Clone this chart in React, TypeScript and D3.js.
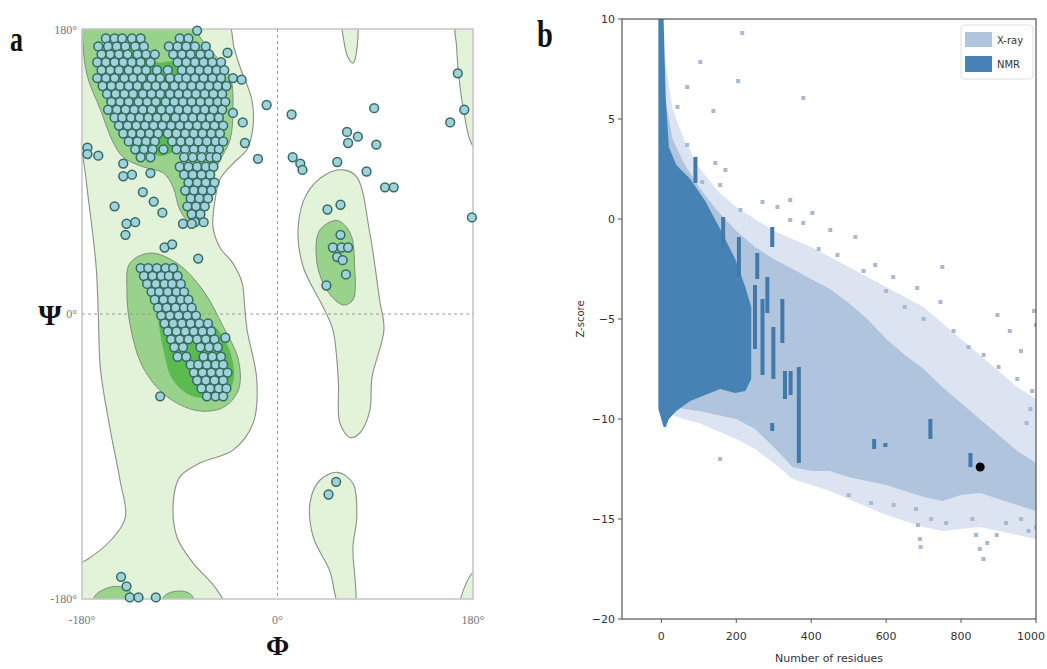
import React from 'react';
import * as d3 from 'd3';

const WIDTH = 1047;
const HEIGHT = 669;
const FRAME_A = { left: 82, right: 473, top: 29, bottom: 599 };
const FRAME_B = { left: 622, right: 1036, top: 19, bottom: 619 };

type P = [number, number];

// ---------- panel a: Ramachandran contours, [phi, psi] in degrees
const allowedMain: P[] = [
  [-190, 190], [-48, 186], [-40, 168], [-34.5, 156], [-23.5, 135], [-22.6, 118], [-28, 104],
  [-41, 95], [-53, 85], [-57.5, 72], [-59.4, 55], [-53, 42], [-41, 32], [-32.7, 20], [-30, 2.5],
  [-28, -10], [-19, -42], [-22.5, -69], [-41, -86], [-71, -94], [-90, -103], [-96, -119],
  [-92.5, -141], [-78, -157], [-56, -174], [-49, -186], [-190, -190], [-190, -160], [-175, -155],
  [-151, -141], [-140, -128], [-145, -105], [-154, -73], [-163, -35], [-165, 0], [-167, 30],
  [-174, 72], [-181, 105], [-190, 120],
];
const allowedRight: P[] = [
  [60.5, 91], [73, 86.5], [85, 51], [94, 9], [98, -10], [87, -40], [85, -61], [76, -75], [67, -78],
  [57.5, -69], [56, -42], [51, -10], [42, 4.4], [23.5, 30], [19, 55], [27, 76], [44, 88],
];
const allowedLower: P[] = [
  [55, -100], [69.5, -107], [73, -128], [69.5, -147], [70, -186], [58, -186], [48, -162],
  [33, -141], [30, -119], [39, -105],
];
const allowedTop: P[] = [[60, 186], [72, 186], [73, 167], [69.5, 158.5], [65, 162], [61, 173]];
const allowedEdge: P[] = [[165, 186], [190, 186], [190, 100], [179, 107], [171, 130], [167, 150], [165, 168]];
const allowedCorner: P[] = [[168, -181], [180, -163], [190, -160], [190, -190], [166, -190]];

const favouredBeta: P[] = [
  [-178, 186], [-76, 186], [-71.4, 175], [-59.4, 165], [-43.7, 150], [-41, 129], [-43.7, 110],
  [-53, 97], [-65, 80], [-71.4, 61], [-80.6, 58], [-90, 66], [-96, 80], [-105, 89], [-124, 93],
  [-142, 99], [-151, 108], [-163, 129], [-175, 150], [-179, 170],
];
const favouredAlpha: P[] = [
  [-136, 32], [-117, 38.5], [-92.5, 32], [-68.6, 15], [-50, -8], [-36, -29], [-36, -48], [-50, -59],
  [-74, -61], [-102, -52], [-124, -33.5], [-136, -5.7], [-138.6, 15],
];
const favouredLeft: P[] = [[39, 53], [55, 59], [67, 51], [71, 30], [69.5, 9], [60.5, 5.7], [45.5, 15], [36, 34]];
const favouredHumpA: P[] = [[-170, -186], [-168, -178], [-160, -174], [-148, -172], [-136, -175], [-132, -186]];
const favouredHumpB: P[] = [[-108, -186], [-104, -178], [-92, -175], [-80, -177], [-76, -186]];

const coreBeta: P[] = [
  [-163, 165.5], [-136, 170], [-111, 159], [-96, 159], [-90, 145], [-83, 113], [-105, 100],
  [-133, 107], [-151, 126], [-163, 145],
];
const coreAlpha: P[] = [
  [-108, 23], [-83, -4], [-62, -5.7], [-44, -23], [-41, -43.6], [-53, -52], [-78, -52], [-96, -42],
  [-105, -23], [-111, 9],
];

// residues: [psi, phi list]
const betaRows: [number, number[]][] = [
  [179, [-74]],
  [174, [-158, -150, -143, -134, -126, -90, -82]],
  [169, [-165, -156, -148, -140, -131, -123, -100, -92, -84, -76, -66]],
  [164, [-162, -154, -146, -138, -129, -121, -113, -96, -88, -80, -71, -63]],
  [159, [-166, -158, -150, -142, -134, -126, -117, -92, -84, -76, -68, -60, -52]],
  [154, [-162, -154, -146, -137, -129, -121, -111, -101, -88, -80, -72, -64, -56, -49]],
  [149, [-166, -158, -150, -141, -133, -125, -116, -108, -99, -91, -84, -76, -68, -60, -52]],
  [144, [-161, -153, -145, -137, -129, -120, -112, -104, -95, -87, -79, -71, -63, -55, -47]],
  [139, [-157, -149, -141, -133, -124, -116, -108, -99, -91, -83, -75, -67, -59, -51]],
  [134, [-153, -145, -137, -128, -120, -112, -103, -95, -87, -79, -71, -63, -55, -48]],
  [129, [-156, -148, -140, -132, -124, -116, -107, -99, -91, -83, -75, -67, -59, -51]],
  [124, [-150, -143, -135, -127, -119, -111, -103, -94, -86, -78, -70, -62, -54]],
  [119, [-146, -138, -130, -122, -114, -106, -98, -90, -82, -74, -66, -58, -50]],
  [114, [-142, -134, -126, -118, -110, -101, -93, -85, -77, -69, -61, -53]],
  [109, [-137, -129, -121, -113, -97, -89, -81, -73, -65, -57, -50]],
  [104, [-131, -123, -115, -105, -93, -85, -77, -69, -61, -54]],
  [99, [-126, -117, -86, -78, -70, -62, -56]],
  [93, [-90, -82, -74, -66, -59]],
  [88, [-86, -78, -70, -62]],
  [83, [-82, -74, -66, -58]],
  [78, [-85, -77, -69, -61]],
  [73, [-80, -72, -64]],
  [68, [-83, -75, -67]],
  [63, [-79, -71]],
  [58, [-76, -68]],
];
const alphaRows: [number, number[]][] = [
  [29, [-126, -119, -111, -103, -96]],
  [24, [-123, -115, -107, -100, -92]],
  [19, [-120, -112, -104, -97, -89]],
  [14, [-116, -109, -101, -93, -86]],
  [9, [-113, -105, -97, -89, -82]],
  [4, [-110, -102, -94, -86, -79]],
  [-1, [-107, -99, -91, -83, -75]],
  [-6, [-104, -96, -88, -80, -72, -64]],
  [-11, [-101, -93, -85, -77, -69, -61]],
  [-16, [-98, -90, -82, -74, -66, -58]],
  [-21, [-95, -87, -71, -63, -55]],
  [-27, [-92, -84, -68, -60, -52]],
  [-32, [-80, -73, -65, -57, -50]],
  [-37, [-77, -69, -61, -53, -46]],
  [-42, [-74, -66, -58, -50]],
  [-47, [-70, -62, -54, -47]],
  [-52, [-65, -57, -50]],
];
const looseResidues: P[] = [
  [-46, 165], [-41, 149], [-33, 148], [-10, 132], [13, 126], [-41, 127], [-32, 121], [-30, 108],
  [-18, 98], [14, 99], [-175, 105], [-165, 100], [-175, 101], [-142, 95], [-142, 87], [-134, 88],
  [-117, 89], [-124, 77], [-114, 71], [-106, 64], [-150, 68], [-139, 57], [-131, 58], [-140, 50],
  [-104, 42], [-97, 44], [-73, 35], [-87, 57], [-79, 57], [21, 95], [23, 91], [55, 96], [64, 115],
  [65, 108], [74, 112], [89, 130], [91, 107], [82, 90], [99, 80], [107, 80], [159, 121],
  [166, 152], [172, 129], [179, 61], [46, 66], [58, 69], [58, 50], [51, 42], [59, 42], [65, 42],
  [55, 36], [60, 34], [63, 25], [45, 18], [54, -106], [47, -114], [-144, -166], [-139, -172],
  [-136, -179], [-128, -179], [-112, -179], [-108, -52], [-48, -15],
];

// ---------- panel b: ProSA z-score reference sets
const xrayRes = [10, 30, 60, 100, 150, 200, 250, 300, 350, 400, 450, 500, 550, 600, 650, 700, 750, 800, 850, 900, 950, 1000];
const xrayHi = [6, 4, 2.8, 1.6, 0.4, -0.6, -1.4, -2, -2.5, -3, -3.5, -4.2, -5, -6, -6.8, -7.5, -8.4, -9.2, -10, -10.8, -11.6, -12.2];
const xrayLo = [-9, -9.3, -9.5, -9.6, -9.8, -10, -10.5, -11.4, -12.4, -12.6, -12.6, -12.9, -13.1, -13.3, -13.6, -13.9, -14.1, -13.8, -13.7, -14, -14.3, -14.6];
const xraySparseHi = [8, 5.5, 4, 2.6, 1.4, 0.6, 0, -0.6, -1, -1.4, -1.9, -2.4, -2.9, -3.4, -3.9, -4.4, -5.2, -6, -6.8, -7.6, -8.4, -9];
const xraySparseLo = [-9.5, -9.8, -10, -10.2, -10.6, -11, -11.5, -12.2, -13, -13.3, -13.6, -14, -14.4, -14.8, -15.1, -15.4, -15.6, -15.5, -15.4, -15.6, -15.8, -16];

const nmrRes = [-8, 6, 12, 20, 40, 77, 117, 157, 197, 224, 240];
const nmrHi = [10, 10, 6, 3.6, 2.7, 2.0, 0.9, -0.5, -2, -3.4, -4.4];
const nmrLo = [-9.5, -10.4, -10.4, -10, -9.6, -9.1, -8.8, -8.5, -8.7, -8.6, -8];

// [residues, z top, z bottom]
const nmrStreaks: [number, number, number][] = [
  [91, 3.1, 1.8], [165, 0.1, -1.4], [207, -0.9, -2.9], [256, -1.7, -3.0], [250, -3.3, -6.5],
  [270, -4, -7.8], [283, -2.9, -4.7], [296, -0.4, -1.4], [299, -5.4, -8.0], [323, -4, -6.2],
  [330, -7.6, -9], [345, -7.6, -8.8], [367, -7.4, -12.2], [296, -10.2, -10.6], [568, -11, -11.5],
  [598, -11.2, -11.4], [718, -10, -11], [825, -11.7, -12.4],
];
const xrayScatter: P[] = [
  [216, 9.3], [104, 7.85], [205, 6.9], [69, 6.6], [139, 5.4], [43, 5.6], [69, 3.7], [144, 2.8],
  [171, 2.45], [109, 1.85], [157, 1.7], [211, 0.45], [270, 0.85], [310, 0.6], [379, 6.05],
  [344, 0.95], [344, -0.05], [379, -0.2], [403, 0.3], [451, -0.55], [518, -0.9], [571, -2.3],
  [619, -2.9], [750, -2.4], [683, -3.45], [745, -4.15], [897, -4.8], [420, -1.5], [470, -1.8],
  [540, -2.6], [600, -3.6], [650, -4.4], [700, -5.0], [780, -5.6], [820, -6.4], [860, -6.8],
  [900, -7.4], [950, -8.0], [990, -8.6], [930, -5.6], [960, -6.6], [995, -4.6], [1000, -5.3],
  [985, -9.5], [975, -10.2], [157, -12], [680, -14.5], [685, -15.3], [690, -16.0], [692, -16.4],
  [830, -15.0], [840, -15.8], [850, -16.5], [860, -17.0], [870, -16.2], [895, -15.8], [920, -15.2],
  [960, -15], [980, -15.6], [1000, -15.4], [760, -15.2], [720, -15], [620, -14.3], [560, -14.2],
  [500, -13.8],
];
const modelScore: P = [851, -12.4];

const serif = "'Liberation Serif', 'DejaVu Serif', serif";
const sans = "'DejaVu Sans', sans-serif";

const Ramachandran = () => {
  const x = d3.scaleLinear().domain([-180, 180]).range([FRAME_A.left, FRAME_A.right]);
  const y = d3.scaleLinear().domain([-180, 180]).range([FRAME_A.bottom, FRAME_A.top]);
  const shape = d3.line<P>().x(d => x(d[0])).y(d => y(d[1])).curve(d3.curveCatmullRomClosed.alpha(0.5));

  const light = [allowedMain, allowedRight, allowedLower, allowedTop, allowedEdge, allowedCorner];
  const mid = [favouredBeta, favouredAlpha, favouredLeft, favouredHumpA, favouredHumpB];
  const dark = [coreBeta, coreAlpha];

  const residues: P[] = [
    ...betaRows.flatMap(([psi, phis]) => phis.map(phi => [phi, psi] as P)),
    ...alphaRows.flatMap(([psi, phis]) => phis.map(phi => [phi, psi] as P)),
    ...looseResidues,
  ];

  return (
    <g>
      <defs>
        <clipPath id="clipA">
          <rect x={FRAME_A.left} y={FRAME_A.top} width={FRAME_A.right - FRAME_A.left} height={FRAME_A.bottom - FRAME_A.top} />
        </clipPath>
      </defs>
      <g clipPath="url(#clipA)">
        {light.map((r, i) => <path key={'l' + i} d={shape(r) || ''} fill="#e2f3da" stroke="#8c8f86" strokeWidth={1.1} />)}
        {mid.map((r, i) => <path key={'m' + i} d={shape(r) || ''} fill="#98d28b" stroke="#7f8f78" strokeWidth={1} />)}
        {dark.map((r, i) => <path key={'d' + i} d={shape(r) || ''} fill="#5cbb50" stroke="none" />)}
      </g>
      <rect x={FRAME_A.left} y={FRAME_A.top} width={FRAME_A.right - FRAME_A.left} height={FRAME_A.bottom - FRAME_A.top}
        fill="none" stroke="#c4c4c4" strokeWidth={1.5} />
      <line x1={x(0)} x2={x(0)} y1={FRAME_A.top} y2={FRAME_A.bottom} stroke="#9a9a9a" strokeDasharray="3,3" />
      <line x1={FRAME_A.left} x2={FRAME_A.right} y1={y(0)} y2={y(0)} stroke="#9a9a9a" strokeDasharray="3,3" />
      {residues.map((d, i) => (
        <circle key={i} cx={x(d[0])} cy={y(d[1])} r={4.4} fill="#9fd2da" stroke="#356b62" strokeWidth={1.5} />
      ))}
      <g fontFamily={serif} fontSize={12} fill="#777">
        <text x={FRAME_A.left - 5} y={y(180) + 5} textAnchor="end">180°</text>
        <text x={FRAME_A.left - 5} y={y(0) + 4} textAnchor="end">0°</text>
        <text x={FRAME_A.left - 5} y={y(-180) + 4} textAnchor="end">-180°</text>
        <text x={x(-180)} y={FRAME_A.bottom + 25} textAnchor="middle">-180°</text>
        <text x={x(0)} y={FRAME_A.bottom + 25} textAnchor="middle">0°</text>
        <text x={x(180)} y={FRAME_A.bottom + 25} textAnchor="middle">180°</text>
      </g>
      <text x={50} y={y(0) + 11} textAnchor="middle" fontFamily={serif} fontWeight="bold" fontSize={30} fill="#111">Ψ</text>
      <text x={x(0)} y={FRAME_A.bottom + 56} textAnchor="middle" fontFamily={serif} fontWeight="bold" fontSize={28} fill="#111">Φ</text>
      <text transform="translate(10,51) scale(0.72,1)" fontFamily={serif} fontWeight="bold" fontSize={36} fill="#111">a</text>
    </g>
  );
};

const ZScorePlot = () => {
  const x = d3.scaleLinear().domain([-105, 1000]).range([FRAME_B.left, FRAME_B.right]);
  const y = d3.scaleLinear().domain([-20, 10]).range([FRAME_B.bottom, FRAME_B.top]);
  const band = (xs: number[], hi: number[], lo: number[]) =>
    d3.area<number>().x(d => x(d)).y0((d, i) => y(lo[i])).y1((d, i) => y(hi[i])).curve(d3.curveLinear)(xs) || '';

  const xTicks = [0, 200, 400, 600, 800, 1000];
  const yTicks = [-20, -15, -10, -5, 0, 5, 10];
  const fmt = (v: number) => (v < 0 ? '\u2212' + Math.abs(v) : String(v));
  const bw = 4;

  return (
    <g>
      <defs>
        <clipPath id="clipB">
          <rect x={FRAME_B.left} y={FRAME_B.top} width={FRAME_B.right - FRAME_B.left} height={FRAME_B.bottom - FRAME_B.top} />
        </clipPath>
      </defs>
      <g clipPath="url(#clipB)">
        <path d={band(xrayRes, xraySparseHi, xraySparseLo)} fill="#b0c4de" opacity={0.45} />
        <path d={band(xrayRes, xrayHi, xrayLo)} fill="#b0c4de" />
        {xrayScatter.map((d, i) => (
          <rect key={i} x={x(d[0]) - 2} y={y(d[1]) - 2} width={4} height={4} fill="#a9b9d2" />
        ))}
        <path d={band(nmrRes, nmrHi, nmrLo)} fill="#4682b4" />
        {nmrStreaks.map((d, i) => (
          <rect key={i} x={x(d[0]) - bw / 2} y={y(d[1])} width={bw} height={Math.max(3, y(d[2]) - y(d[1]))} fill="#4179ab" />
        ))}
        <circle cx={x(modelScore[0])} cy={y(modelScore[1])} r={4.5} fill="#000" />
      </g>
      <rect x={FRAME_B.left} y={FRAME_B.top} width={FRAME_B.right - FRAME_B.left} height={FRAME_B.bottom - FRAME_B.top}
        fill="none" stroke="#555" strokeWidth={1.2} />
      <g fontFamily={sans} fontSize={11} fill="#333">
        {yTicks.map(t => (
          <g key={t}>
            <line x1={FRAME_B.left - 4} x2={FRAME_B.left} y1={y(t)} y2={y(t)} stroke="#555" />
            <text x={FRAME_B.left - 7} y={y(t) + 4} textAnchor="end">{fmt(t)}</text>
          </g>
        ))}
        {xTicks.map(t => (
          <g key={t}>
            <line x1={x(t)} x2={x(t)} y1={FRAME_B.bottom} y2={FRAME_B.bottom + 4} stroke="#555" />
            <text x={t === 1000 ? WIDTH - 2 : x(t)} y={FRAME_B.bottom + 21} textAnchor={t === 1000 ? 'end' : 'middle'}>{fmt(t)}</text>
          </g>
        ))}
        <text x={(FRAME_B.left + FRAME_B.right) / 2} y={FRAME_B.bottom + 43} textAnchor="middle">Number of residues</text>
        <text transform={`translate(584,${(FRAME_B.top + FRAME_B.bottom) / 2}) rotate(-90)`} textAnchor="middle" fontSize={10}>Z-score</text>
      </g>
      <g fontFamily={sans} fontSize={10} fill="#333">
        <rect x={961} y={25} width={72} height={54} rx={3} fill="#fff" fillOpacity={0.8} stroke="#e0e0e0" />
        <rect x={965} y={32} width={27} height={15} fill="#b0c4de" />
        <text x={997} y={44}>X-ray</text>
        <rect x={965} y={56} width={27} height={16} fill="#4682b4" />
        <text x={997} y={68}>NMR</text>
      </g>
      <text transform="translate(537,47) scale(0.75,1)" fontFamily={serif} fontWeight="bold" fontSize={38} fill="#111">b</text>
    </g>
  );
};

export default function App() {
  return (
    <svg width={WIDTH} height={HEIGHT} style={{ position: 'absolute', left: 0, top: 0, background: '#fff' }}>
      <rect width={WIDTH} height={HEIGHT} fill="#fff" />
      <Ramachandran />
      <ZScorePlot />
    </svg>
  );
}
